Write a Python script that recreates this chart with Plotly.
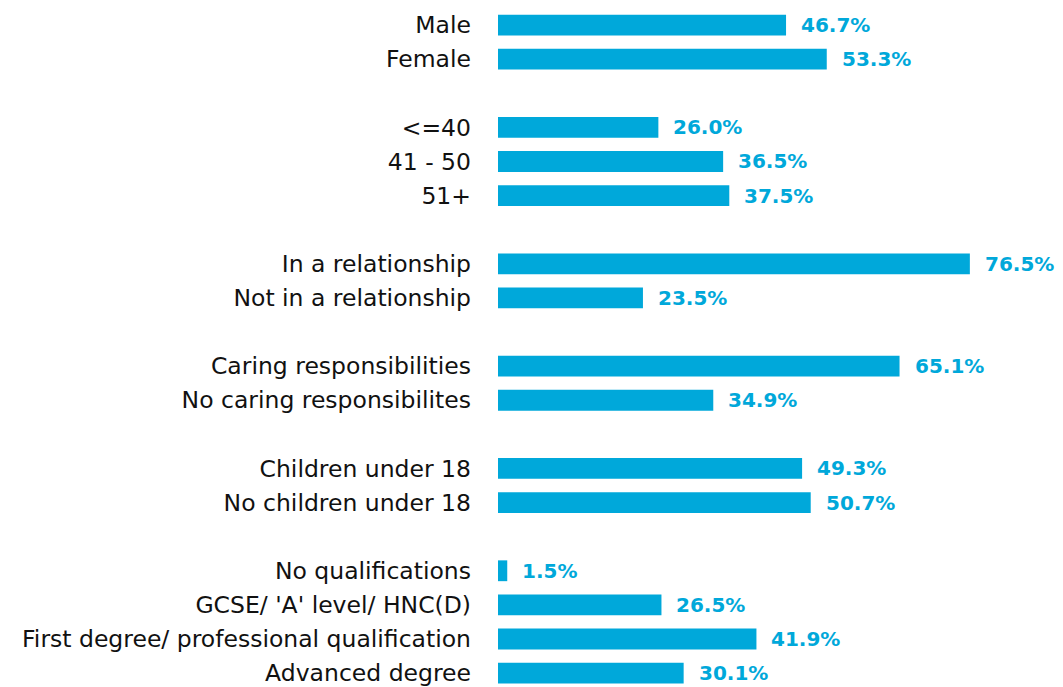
import plotly.graph_objects as go

categories = [
    "Male", "Female", None,
    "<=40", "41 - 50", "51+", None,
    "In a relationship", "Not in a relationship", None,
    "Caring responsibilities", "No caring responsibilites", None,
    "Children under 18", "No children under 18", None,
    "No qualifications", "GCSE/ 'A' level/ HNC(D)",
    "First degree/ professional qualification", "Advanced degree",
]
values = [
    46.7, 53.3, None,
    26.0, 36.5, 37.5, None,
    76.5, 23.5, None,
    65.1, 34.9, None,
    49.3, 50.7, None,
    1.5, 26.5, 41.9, 30.1,
]

BAR = "#00A8DA"
FONT = "'DejaVu Sans', sans-serif"

ys = [i for i, c in enumerate(categories) if c is not None]
xs = [values[i] for i in ys]
labels = [categories[i] for i in ys]

fig = go.Figure(go.Bar(
    x=xs, y=ys, orientation="h", marker=dict(color=BAR, line=dict(width=0)),
    width=0.61, hoverinfo="skip",
))

for y, v in zip(ys, xs):
    fig.add_annotation(x=v, y=y, text=f"<b>{v:.1f}%</b>", showarrow=False,
                       xanchor="left", yanchor="middle", xshift=13,
                       font=dict(family=FONT, size=20, color=BAR))

fig.update_layout(
    width=1055, height=679,
    margin=dict(l=490, r=0, t=0, b=0),
    plot_bgcolor="white", paper_bgcolor="white",
    showlegend=False,
    xaxis=dict(range=[0, 91.6], visible=False, fixedrange=True),
    yaxis=dict(range=[19.32, -0.5], tickvals=ys, ticktext=labels,
               showgrid=False, zeroline=False, showline=False, ticks="",
               ticklabelstandoff=26, ticklabeloverflow="allow",
               tickfont=dict(family=FONT, size=23.5, color="#111111")),
)
fig.write_html("out.html")
